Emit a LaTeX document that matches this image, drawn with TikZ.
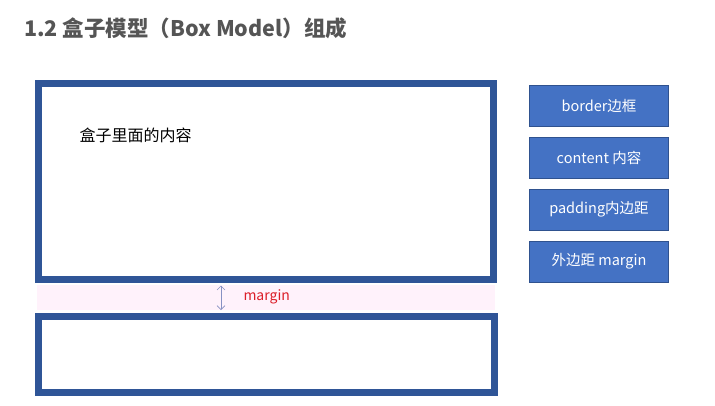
\documentclass[tikz,border=0pt]{standalone}
\usepackage{fontspec}
\usepackage{xcolor}
\usepackage{tikz}
\usetikzlibrary{positioning,arrows.meta}
\setmainfont{Noto Sans CJK SC}
\definecolor{boxblue}{RGB}{47,85,151}
\definecolor{tagfill}{RGB}{68,114,196}
\definecolor{tagline}{RGB}{47,82,143}
\definecolor{bandpink}{RGB}{255,242,251}
\definecolor{titlegray}{RGB}{85,85,85}
\definecolor{marginred}{RGB}{220,30,40}
\definecolor{arrowgray}{RGB}{135,145,195}

\begin{document}
\begin{tikzpicture}[x=1pt,y=-1pt,
    outerbox/.style={draw=boxblue,line width=7pt,fill=white,inner sep=0pt},
    tagbox/.style={draw=tagline,fill=tagfill,text=white,line width=0.8pt,
        minimum width=139pt,minimum height=41pt,inner sep=0pt,font=\fontsize{14.5}{16}\selectfont}]
        \useasboundingbox (0,0) rectangle (715,405);

        \node[anchor=west,text=titlegray,inner sep=0pt,font=\fontsize{21.5}{24}\selectfont\bfseries] (title) at (24,28) {1.2 盒子模型（Box Model）组成};

        \node[outerbox,minimum width=455pt,minimum height=196pt] (box) at (266,181.5) {};
        \node[anchor=west,font=\fontsize{16}{18}\selectfont] (inner) at (76,135) {盒子里面的内容};

        \node[fill=bandpink,minimum width=458pt,minimum height=25pt,inner sep=0pt] (band) at (266,297.5) {};
        \node[outerbox,minimum width=456pt,minimum height=76pt] (nextbox) at (266.5,354.5) {};

        \coordinate (mtop) at (221,285.5);
        \coordinate (mbot) at (221,310);
        \draw[{Straight Barb[length=4pt,width=8pt]}-{Straight Barb[length=4pt,width=8pt]},arrowgray,line width=0.7pt] (mtop) -- (mbot);
        \node[anchor=west,text=marginred,font=\fontsize{14}{16}\selectfont] (mlabel) at (240,297) {margin};

        \node[tagbox] (border) at (599,106) {border边框};
        \node[tagbox,below=10pt of border] (content) {content 内容};
        \node[tagbox,below=10pt of content] (padding) {padding内边距};
        \node[tagbox,below=10pt of padding] (margin) {外边距 margin};
    \end{tikzpicture}
\end{document}
